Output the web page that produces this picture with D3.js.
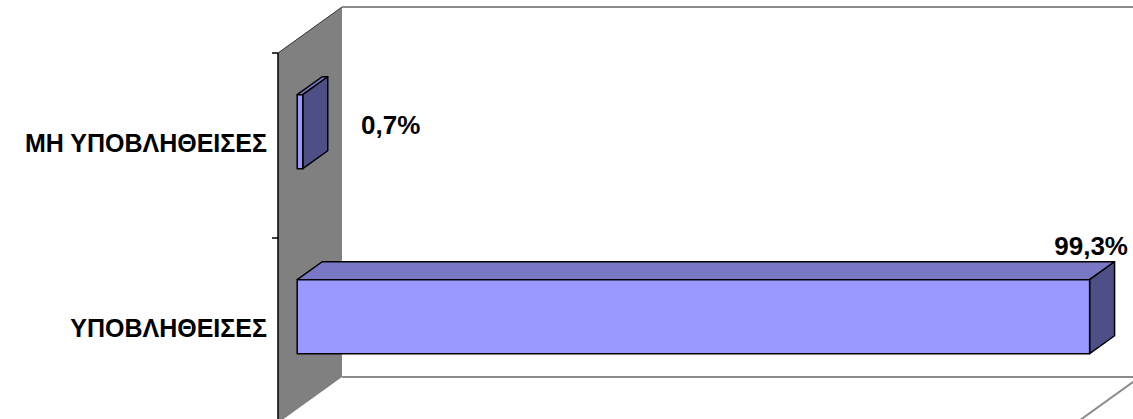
<!DOCTYPE html>
<html>
<head>
<meta charset="utf-8">
<script src="https://cdn.jsdelivr.net/npm/d3@7"></script>
<style>
  html, body { margin: 0; padding: 0; background: #fff; }
  svg { display: block; }
  text { font-family: "Liberation Sans", Arial, sans-serif; font-weight: bold; fill: #000; }
</style>
</head>
<body>
<script>
// data
var categories = ["ΜΗ ΥΠΟΒΛΗΘΕΙΣΕΣ", "ΥΠΟΒΛΗΘΕΙΣΕΣ"];
var values = [0.7, 99.3];
var valueLabels = ["0,7%", "99,3%"];

var width = 1133, height = 419;

// front plane of the 3d box
var x0 = 278, x1 = 1076, yTop = 53, yBottom = 423;
// depth vector (front -> back)
var dx = 64, dy = -46;
var barDepthStart = 0.3, barDepthEnd = 0.69;

var x = d3.scaleLinear().domain([0, 100]).range([x0, x1]);
var y = d3.scaleBand().domain(categories).range([yTop, yBottom])
  .paddingInner(0.6).paddingOuter(0.3);

var svg = d3.select("body").append("svg")
  .attr("width", width).attr("height", height);

function pt(px, py, d) { return [px + dx * d, py + dy * d]; }
function poly(pts) { return pts.map(function (p) { return p.join(","); }).join(" "); }

// left wall
svg.append("polygon")
  .attr("points", poly([pt(x0, yTop, 0), pt(x0, yTop, 1), pt(x0, yBottom, 1), pt(x0, yBottom, 0)]))
  .attr("fill", "#808080");
svg.append("line")
  .attr("x1", x0).attr("y1", yTop).attr("x2", x0).attr("y2", yBottom)
  .attr("stroke", "#000").attr("stroke-width", 1.5);
svg.append("line")
  .attr("x1", x0).attr("y1", yTop).attr("x2", pt(x0, yTop, 1)[0]).attr("y2", pt(x0, yTop, 1)[1])
  .attr("stroke", "#333").attr("stroke-width", 1);

// back wall top edge, floor back edge, floor right edge
var gridColor = "#8c8c8c";
svg.append("line")
  .attr("x1", pt(x0, yTop, 1)[0]).attr("y1", pt(x0, yTop, 1)[1])
  .attr("x2", pt(x1, yTop, 1)[0]).attr("y2", pt(x1, yTop, 1)[1])
  .attr("stroke", gridColor).attr("stroke-width", 2);
svg.append("line")
  .attr("x1", pt(x0, yBottom, 1)[0]).attr("y1", pt(x0, yBottom, 1)[1])
  .attr("x2", pt(x1, yBottom, 1)[0]).attr("y2", pt(x1, yBottom, 1)[1])
  .attr("stroke", gridColor).attr("stroke-width", 2);
svg.append("line")
  .attr("x1", pt(x1, yBottom, 1)[0]).attr("y1", pt(x1, yBottom, 1)[1])
  .attr("x2", x1).attr("y2", yBottom)
  .attr("stroke", gridColor).attr("stroke-width", 2);

// category ticks
var tickYs = [yTop].concat(categories.map(function (c) { return y(c) - y.step() * 0.3 + y.step(); }));
svg.selectAll(".tick").data(tickYs).enter().append("line")
  .attr("x1", x0 - 6).attr("x2", x0)
  .attr("y1", function (d) { return d; }).attr("y2", function (d) { return d; })
  .attr("stroke", "#000").attr("stroke-width", 1.5);

// category labels
svg.selectAll(".cat").data(categories).enter().append("text")
  .attr("x", 267)
  .attr("y", function (d) { return y(d) + y.bandwidth() / 2 - 2.5; })
  .attr("text-anchor", "end")
  .attr("dominant-baseline", "central")
  .attr("font-size", 25)
  .text(function (d) { return d; });

// bars
var frontColor = "#9999ff", topColor = "#7878c4", sideColor = "#4f4f87";
values.forEach(function (v, i) {
  var c = categories[i];
  var xa = x(0), xb = x(v), ya = y(c), yb = y(c) + y.bandwidth();
  var g = svg.append("g")
    .attr("stroke", "#000").attr("stroke-width", 1.5).attr("stroke-linejoin", "round");
  // top face
  g.append("polygon")
    .attr("points", poly([pt(xa, ya, barDepthStart), pt(xa, ya, barDepthEnd), pt(xb, ya, barDepthEnd), pt(xb, ya, barDepthStart)]))
    .attr("fill", topColor);
  // side face
  g.append("polygon")
    .attr("points", poly([pt(xb, ya, barDepthStart), pt(xb, ya, barDepthEnd), pt(xb, yb, barDepthEnd), pt(xb, yb, barDepthStart)]))
    .attr("fill", sideColor);
  // front face
  g.append("polygon")
    .attr("points", poly([pt(xa, ya, barDepthStart), pt(xb, ya, barDepthStart), pt(xb, yb, barDepthStart), pt(xa, yb, barDepthStart)]))
    .attr("fill", frontColor);

  // value label
  var endBack = pt(xb, ya, barDepthEnd);
  var t = svg.append("text")
    .attr("font-size", 26)
    .attr("text-anchor", "middle")
    .attr("dominant-baseline", "central")
    .text(valueLabels[i]);
  var half = t.node().getComputedTextLength() / 2;
  var cx = endBack[0] + 63;
  var cy = y(c) + y.bandwidth() / 2 - 21;
  if (cx + half > width - 4) {
    cx = width - 5 - half;
    cy = endBack[1] - 16;
  }
  t.attr("x", cx).attr("y", cy);
});
</script>
</body>
</html>
